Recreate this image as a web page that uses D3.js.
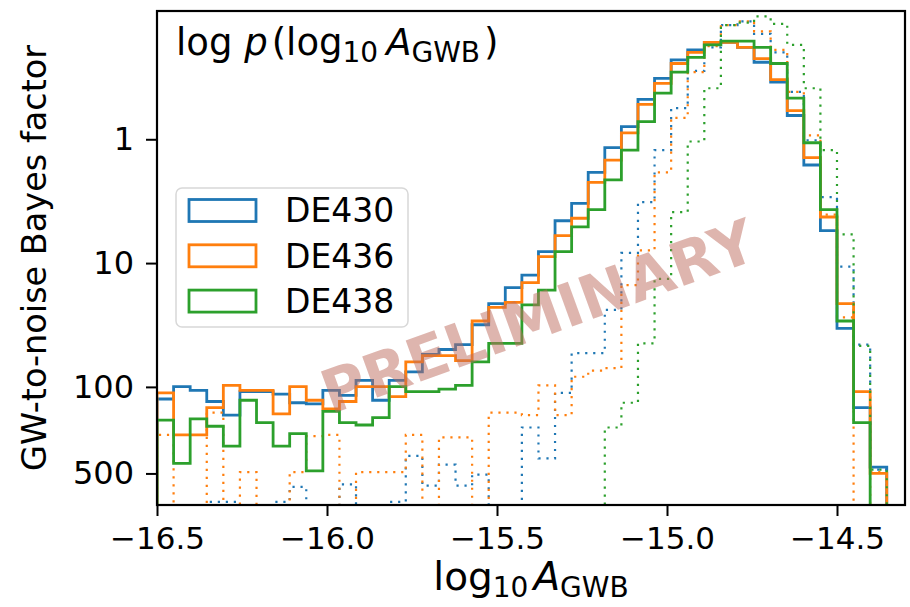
<!DOCTYPE html>
<html>
<head>
<meta charset="utf-8">
<script src="https://cdn.jsdelivr.net/npm/d3@7/dist/d3.min.js"></script>
<style>
  body { margin: 0; background: #fff; }
  svg text { font-family: "DejaVu Sans", sans-serif; fill: #000; }
</style>
</head>
<body>
<svg id="chart" width="910" height="607"></svg>
<script>
// Histogram binning in log10 A_GWB
const binStart = -16.5;
const binWidth = 0.04878;
const xTicks = [-16.5, -16.0, -15.5, -15.0, -14.5];

// Bayes-factor ticks: BF = prior density / posterior density (uniform prior on log10 A)
const priorDensity = 0.25;
const bayesTicks = [1, 10, 100, 500];

const ephemerides = ["DE430", "DE436", "DE438"];
const colors = ["#1f77b4", "#ff7f0e", "#2ca02c"];

// log10 posterior density per bin (null = empty bin)
const solidDE430 = [-2.70, -2.60, -2.63, -2.72, -2.83, -2.64, -2.64, -2.66, -2.73, -2.74,
  -2.63, -2.67, -2.55, -2.71, -2.55, -2.48, -2.34, -2.30, -2.26, -2.10,
  -1.93, -1.80, -1.70, -1.51, -1.26, -1.12, -0.87, -0.67, -0.50, -0.28,
  -0.11, 0.04, 0.12, 0.18, 0.18, 0.14, 0.02, -0.14, -0.41, -0.81,
  -1.34, -2.13, -2.77, -3.25];
const solidDE436 = [-2.65, -2.99, -2.99, -2.77, -2.59, -2.63, -2.63, -2.82, -2.60, -2.71,
  -2.78, -2.72, -2.60, -2.60, -2.68, -2.40, -2.35, -2.35, -2.39, -2.07,
  -1.96, -1.92, -1.76, -1.55, -1.38, -1.24, -0.95, -0.77, -0.55, -0.32,
  -0.15, 0.01, 0.10, 0.18, 0.18, 0.14, 0.05, -0.12, -0.37, -0.75,
  -1.23, -1.93, -2.64, -3.30];
const solidDE438 = [-2.87, -3.22, -2.86, -2.92, -3.08, -2.71, -2.89, -3.08, -2.98, -3.28,
  -2.80, -2.89, -2.91, -2.85, -2.60, -2.64, -2.64, -2.62, -2.59, -2.40,
  -2.25, -2.25, -1.94, -1.82, -1.51, -1.31, -1.17, -0.93, -0.69, -0.46,
  -0.23, -0.06, 0.06, 0.16, 0.19, 0.19, 0.14, 0.01, -0.27, -0.63,
  -1.17, -2.07, -2.89, null];

const dottedDE430 = [null, null, null, -3.53, -3.53, null, null, -3.53, -3.41, null,
  null, -3.39, null, null, -3.53, -3.16, -3.40, -3.23, -3.40, -3.31,
  null, null, -2.93, -3.18, -2.65, -2.33, -2.33, -1.98, -1.52, -1.11,
  -0.69, -0.35, -0.05, 0.14, 0.32, 0.35, 0.25, 0.10, -0.22, -0.61,
  -1.07, -1.63, -2.26, -3.27];
const dottedDE436 = [-2.99, null, null, -2.81, null, -3.29, null, null, -3.29, -3.00,
  -2.99, null, -3.29, -3.29, -3.29, -2.99, null, -3.01, -3.01, null,
  -2.81, -2.81, -2.83, -2.59, -2.83, -2.52, -2.47, -2.45, -1.78, -1.50,
  -0.87, -0.43, -0.06, 0.15, 0.32, 0.35, 0.27, 0.12, -0.22, -0.57,
  -1.21, -2.04, null, -3.29];
const dottedDE438 = [null, null, null, null, null, null, null, null, null, null,
  null, null, null, null, null, null, null, null, null, null,
  null, null, null, null, null, null, null, -2.93, -2.73, -2.25,
  -1.73, -1.19, -0.62, -0.19, 0.32, 0.34, 0.39, 0.33, 0.16, -0.19,
  -0.69, -1.37, -2.27, -3.27];

const solidSeries = [solidDE430, solidDE436, solidDE438];
const dottedSeries = [dottedDE430, dottedDE436, dottedDE438];

const svg = d3.select("#chart");
const plot = { left: 157, right: 905, top: 11, bottom: 505 };

const x = d3.scaleLinear().domain([-16.5, -14.3]).range([plot.left, plot.right]);
const y = d3.scaleLinear().domain([-3.556, 0.434]).range([plot.bottom, plot.top]);
const logPrior = Math.log10(priorDensity);
const belowY = plot.bottom + 40;

svg.append("defs").append("clipPath").attr("id", "plot-clip")
  .append("rect")
  .attr("x", plot.left).attr("y", plot.top)
  .attr("width", plot.right - plot.left).attr("height", plot.bottom - plot.top);

// Step outline through bin edges; empty bins drop below the frame
const stepLine = d3.line()
  .x(d => x(d[0]))
  .y(d => d[1] == null ? belowY : y(d[1]))
  .curve(d3.curveStepAfter);

function stepPoints(vals) {
  const pts = [[binStart, null]];
  vals.forEach((v, i) => pts.push([binStart + i * binWidth, v]));
  const end = binStart + vals.length * binWidth;
  pts.push([end, vals[vals.length - 1]]);
  pts.push([end, null]);
  return pts;
}

const lines = svg.append("g").attr("clip-path", "url(#plot-clip)");
ephemerides.forEach((name, i) => {
  lines.append("path")
    .attr("d", stepLine(stepPoints(solidSeries[i])))
    .attr("fill", "none")
    .attr("stroke", colors[i])
    .attr("stroke-width", 2.8)
    .attr("stroke-linejoin", "miter");
  lines.append("path")
    .attr("d", stepLine(stepPoints(dottedSeries[i])))
    .attr("fill", "none")
    .attr("stroke", colors[i])
    .attr("stroke-width", 2.2)
    .attr("stroke-dasharray", "2.2 5.8");
});

// Axes
const xAxis = d3.axisBottom(x).tickValues(xTicks).tickFormat(d3.format(".1f"))
  .tickSize(11).tickPadding(11);
const gx = svg.append("g").attr("transform", `translate(0,${plot.bottom})`).call(xAxis);
gx.select(".domain").remove();
gx.selectAll(".tick line").attr("stroke", "#000").attr("stroke-width", 2);
gx.selectAll(".tick text").attr("font-size", 31).attr("font-family", "DejaVu Sans");

const yAxis = d3.axisLeft(y)
  .tickValues(bayesTicks.map(b => logPrior - Math.log10(b)))
  .tickFormat((d, i) => String(bayesTicks[i]))
  .tickSize(11).tickPadding(12);
const gy = svg.append("g").attr("transform", `translate(${plot.left},0)`).call(yAxis);
gy.select(".domain").remove();
gy.selectAll(".tick line").attr("stroke", "#000").attr("stroke-width", 2);
gy.selectAll(".tick text").attr("font-size", 32).attr("font-family", "DejaVu Sans");

// Frame
svg.append("rect")
  .attr("x", plot.left).attr("y", plot.top)
  .attr("width", plot.right - plot.left).attr("height", plot.bottom - plot.top)
  .attr("fill", "none").attr("stroke", "#000").attr("stroke-width", 2.2);

// Axis labels
svg.append("text")
  .attr("transform", `translate(46,${(plot.top + plot.bottom) / 2}) rotate(-90)`)
  .attr("text-anchor", "middle")
  .attr("font-size", 33.5)
  .text("GW-to-noise Bayes factor");

const xl = svg.append("text")
  .attr("x", (plot.left + plot.right) / 2).attr("y", 590)
  .attr("text-anchor", "middle").attr("font-size", 39);
xl.append("tspan").text("log");
xl.append("tspan").attr("font-size", 28).attr("dy", 7).text("10");
xl.append("tspan").attr("font-style", "italic").attr("dx", 5).attr("dy", -7).text("A");
xl.append("tspan").attr("font-size", 28).attr("dy", 7).text("GWB");

// Title inside the axes
const title = svg.append("text").attr("x", 176).attr("y", 55).attr("font-size", 37);
title.append("tspan").text("log ");
title.append("tspan").attr("font-style", "italic").text("p");
title.append("tspan").attr("dx", 4).text("(log");
title.append("tspan").attr("font-size", 28).attr("dy", 7).text("10");
title.append("tspan").attr("font-style", "italic").attr("dx", 8).attr("dy", -7).text("A");
title.append("tspan").attr("font-size", 28).attr("dy", 7).text("GWB");
title.append("tspan").attr("dy", -7).attr("dx", 4).text(")");

// Legend
const legend = svg.append("g");
legend.append("rect")
  .attr("x", 176).attr("y", 188).attr("width", 232).attr("height", 139)
  .attr("rx", 6).attr("fill", "#fff").attr("fill-opacity", 0.8)
  .attr("stroke", "#d8d8d8").attr("stroke-width", 1.5);
ephemerides.forEach((name, i) => {
  const cy = 210.5 + i * 45.3;
  legend.append("rect")
    .attr("x", 189).attr("y", cy - 11).attr("width", 67).attr("height", 22)
    .attr("fill", "none").attr("stroke", colors[i]).attr("stroke-width", 2.8);
  legend.append("text")
    .attr("x", 285).attr("y", cy).attr("dy", "0.36em")
    .attr("font-size", 33).text(name);
});

// Watermark
svg.append("text")
  .attr("transform", "translate(538,316) rotate(-20)")
  .attr("text-anchor", "middle").attr("dy", "0.36em")
  .attr("font-family", "Liberation Sans, Arial, sans-serif")
  .attr("font-weight", "bold").attr("font-size", 60)
  .style("fill", "#bd6b5d").attr("fill-opacity", 0.5)
  .text("PRELIMINARY");
</script>
</body>
</html>
